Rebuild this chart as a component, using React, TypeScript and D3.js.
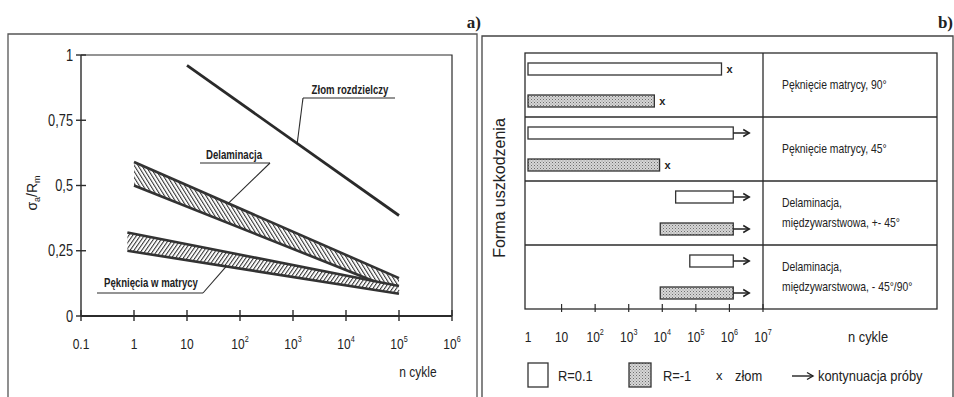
import React from "react";
import * as d3 from "d3";

// ---- data: a) S-N bands ----
const leftTicks = [0.1, 1, 10, 1e2, 1e3, 1e4, 1e5, 1e6];
const stressTicks = [0, 0.25, 0.5, 0.75, 1];
const stressTickLabels = ["0", "0,25", "0,5", "0,75", "1"];

const zlomN = [10, 1e5];
const zlomS = [0.96, 0.385];

const delamN = [1, 1e5];
const delamUpper = [0.59, 0.145];
const delamLower = [0.5, 0.095];

const matrixN = [0.75, 1e5];
const matrixUpper = [0.32, 0.115];
const matrixLower = [0.25, 0.085];

// ---- data: b) failure modes ----
const failureModes = [
  ["Pęknięcie matrycy, 90°"],
  ["Pęknięcie matrycy, 45°"],
  ["Delaminacja,", "międzywarstwowa, +- 45°"],
  ["Delaminacja,", "międzywarstwowa, - 45°/90°"],
];
const rightTicks = [1, 10, 1e2, 1e3, 1e4, 1e5, 1e6, 1e7];
const r01Start = [1, 1, 2.5e4, 6.6e4];
const r01End = [5.8e5, 1.3e6, 1.3e6, 1.3e6];
const r01Mark = ["x", "arrow", "arrow", "arrow"];
const rm1Start = [1, 1, 8.7e3, 8.7e3];
const rm1End = [5.8e3, 8.3e3, 1.3e6, 1.3e6];
const rm1Mark = ["x", "x", "arrow", "arrow"];

const SANS = "'Liberation Sans', Arial, sans-serif";
const INK = "#2b2b2b";

// no narrow face installed, so squeeze Liberation Sans horizontally
function NText({
  x,
  y,
  size,
  anchor = "start",
  weight = "normal",
  squeeze = 0.8,
  children,
}: {
  x: number;
  y: number;
  size: number;
  anchor?: string;
  weight?: string;
  squeeze?: number;
  children: React.ReactNode;
}) {
  return (
    <text
      transform={`translate(${x},${y}) scale(${squeeze},1)`}
      textAnchor={anchor as any}
      fontFamily={SANS}
      fontWeight={weight}
      fontSize={size}
      fill="#222"
    >
      {children}
    </text>
  );
}

function expLabel(v: number) {
  const e = Math.round(Math.log10(v));
  if (v < 1) return <tspan>{String(v)}</tspan>;
  if (e === 0) return <tspan>1</tspan>;
  if (e === 1) return <tspan>10</tspan>;
  return (
    <>
      <tspan>10</tspan>
      <tspan dy={-7} fontSize="0.6em">{e}</tspan>
    </>
  );
}

// value on a straight band edge (linear in log n)
function edgeAt(ns: number[], vs: number[], n: number) {
  const t = (Math.log10(n) - Math.log10(ns[0])) / (Math.log10(ns[1]) - Math.log10(ns[0]));
  return vs[0] + t * (vs[1] - vs[0]);
}

function LeftChart() {
  const x = d3.scaleLog().domain([0.1, 1e6]).range([81, 452]);
  const y = d3.scaleLinear().domain([0, 1]).range([316, 55]);

  const line = d3
    .line<[number, number]>()
    .x((d) => x(d[0]))
    .y((d) => y(d[1]));
  const area = d3
    .area<number>()
    .x((_, i) => x(delamN[i]))
    .y0((_, i) => y(delamLower[i]))
    .y1((_, i) => y(delamUpper[i]));
  const areaM = d3
    .area<number>()
    .x((_, i) => x(matrixN[i]))
    .y0((_, i) => y(matrixLower[i]))
    .y1((_, i) => y(matrixUpper[i]));

  const zip = (a: number[], b: number[]) => a.map((v, i) => [v, b[i]] as [number, number]);

  // leader targets
  const zlomTarget = 1.2e3;
  const delamTarget = 60;
  const matrixTarget = 55;

  return (
    <g>
      <defs>
        <pattern id="hatchD" width="3.2" height="3.2" patternUnits="userSpaceOnUse" patternTransform="rotate(-32)">
          <rect width="3.2" height="3.2" fill="#fff" />
          <line x1="0" y1="0" x2="0" y2="3.2" stroke="#333" strokeWidth="2.1" />
        </pattern>
        <pattern id="hatchM" width="3.2" height="3.2" patternUnits="userSpaceOnUse" patternTransform="rotate(35)">
          <rect width="3.2" height="3.2" fill="#fff" />
          <line x1="0" y1="0" x2="0" y2="3.2" stroke="#333" strokeWidth="2.1" />
        </pattern>
      </defs>
      {/* frame */}
      <path d="M81,55 H452 V316" fill="none" stroke={INK} strokeWidth={1.2} />
      <line x1={81} x2={81} y1={55} y2={316} stroke={INK} strokeWidth={1.4} />
      <line x1={81} x2={452} y1={316} y2={316} stroke={INK} strokeWidth={2} />
      {stressTicks.map((t, i) => (
        <g key={t}>
          <line x1={76} x2={86} y1={y(t)} y2={y(t)} stroke={INK} strokeWidth={1.4} />
          <NText x={73} y={y(t) + 5.5} anchor="end" size={16}>
            {stressTickLabels[i]}
          </NText>
        </g>
      ))}
      {leftTicks.map((t) => (
        <g key={t}>
          <line x1={x(t)} x2={x(t)} y1={310} y2={321} stroke={INK} strokeWidth={1.4} />
          <NText x={x(t)} y={349} anchor="middle" size={15}>
            {expLabel(t)}
          </NText>
        </g>
      ))}
      <NText x={418} y={377} anchor="middle" size={15}>
        n cykle
      </NText>
      <text transform="translate(37,193) rotate(-90)" textAnchor="middle" fontFamily={SANS} fontSize={14} fill="#222">
        <tspan>σ</tspan>
        <tspan fontSize={9} dy={3}>a</tspan>
        <tspan dy={-3}>/R</tspan>
        <tspan fontSize={9} dy={3}>m</tspan>
      </text>

      {/* bands */}
      <path d={area(delamN) || ""} fill="url(#hatchD)" />
      <path d={line(zip(delamN, delamUpper)) || ""} stroke="#333" strokeWidth={2.6} fill="none" />
      <path d={line(zip(delamN, delamLower)) || ""} stroke="#333" strokeWidth={2.6} fill="none" />
      <path d={areaM(matrixN) || ""} fill="url(#hatchM)" />
      <path d={line(zip(matrixN, matrixUpper)) || ""} stroke="#333" strokeWidth={2.6} fill="none" />
      <path d={line(zip(matrixN, matrixLower)) || ""} stroke="#333" strokeWidth={2.6} fill="none" />
      <path d={line(zip(zlomN, zlomS)) || ""} stroke="#2a2a2a" strokeWidth={2.8} fill="none" />

      {/* annotations */}
      <NText x={350} y={94} anchor="middle" weight="bold" size={12}>
        Złom rozdzielczy
      </NText>
      <line x1={303} x2={395} y1={98} y2={98} stroke={INK} strokeWidth={1.1} />
      <line x1={303} y1={98} x2={x(zlomTarget)} y2={y(edgeAt(zlomN, zlomS, zlomTarget))} stroke={INK} strokeWidth={1.1} />

      <NText x={234} y={159} anchor="middle" weight="bold" size={12}>
        Delaminacja
      </NText>
      <line x1={200} x2={270} y1={163} y2={163} stroke={INK} strokeWidth={1.1} />
      <line x1={270} y1={163} x2={x(delamTarget)} y2={y(edgeAt(delamN, delamUpper, delamTarget))} stroke={INK} strokeWidth={1.1} />

      <NText x={151} y={287} anchor="middle" weight="bold" size={12}>
        Pęknięcia w matrycy
      </NText>
      <line x1={97} x2={203} y1={293} y2={293} stroke={INK} strokeWidth={1.1} />
      <line x1={203} y1={293} x2={x(matrixTarget)} y2={y(edgeAt(matrixN, matrixLower, matrixTarget))} stroke={INK} strokeWidth={1.1} />
    </g>
  );
}

function RightChart() {
  const x = d3.scaleLog().domain([1, 1e7]).range([528, 763]);
  const rows = d3.scaleBand<number>().domain(d3.range(failureModes.length)).range([53, 309]);
  const sub = d3
    .scaleBand<string>()
    .domain(["R=0.1", "R=-1"])
    .range([0, rows.bandwidth()])
    .paddingInner(0.625)
    .paddingOuter(0.3125);
  const bh = sub.bandwidth();

  const mark = (kind: string, xe: number, yc: number, key: string) =>
    kind === "x" ? (
      <text key={key} x={xe + 5} y={yc + 4} fontFamily={SANS} fontWeight="bold" fontSize={11} fill="#222">
        x
      </text>
    ) : (
      <g key={key} stroke="#222" strokeWidth={1.5} fill="none">
        <line x1={xe} x2={xe + 16} y1={yc} y2={yc} />
        <path d={`M${xe + 10},${yc - 3.5} L${xe + 16},${yc} L${xe + 10},${yc + 3.5}`} />
      </g>
    );

  return (
    <g>
      <defs>
        <pattern id="stipple" width="3" height="3" patternUnits="userSpaceOnUse">
          <rect width="3" height="3" fill="#d6d6d6" />
          <rect x="0" y="0" width="1" height="1" fill="#6e6e6e" />
          <rect x="1.5" y="1.5" width="1" height="1" fill="#8e8e8e" />
        </pattern>
      </defs>
      {/* table frame */}
      <rect x={525} y={53} width={412} height={256} fill="none" stroke={INK} strokeWidth={1.3} />
      <line x1={x(1e7)} x2={x(1e7)} y1={53} y2={309} stroke={INK} strokeWidth={1.3} />
      {failureModes.slice(1).map((_, i) => (
        <line key={i} x1={525} x2={937} y1={rows(i + 1)!} y2={rows(i + 1)!} stroke={INK} strokeWidth={1.3} />
      ))}
      {failureModes.map((lines, i) => {
        const yc = rows(i)! + rows.bandwidth() / 2;
        const y0 = yc - ((lines.length - 1) * 20) / 2 + 4;
        return (
          <g key={i}>
            {lines.map((s, j) => (
              <NText key={j} x={782} y={y0 + j * 20} size={12.5} squeeze={0.83}>
                {s}
              </NText>
            ))}
          </g>
        );
      })}
      {/* bars */}
      {failureModes.map((_, i) => {
        const ya = rows(i)! + sub("R=0.1")!;
        const yb = rows(i)! + sub("R=-1")!;
        return (
          <g key={i}>
            <rect x={x(r01Start[i])} y={ya} width={x(r01End[i]) - x(r01Start[i])} height={bh} fill="#fff" stroke="#333" strokeWidth={1.3} />
            <rect x={x(rm1Start[i])} y={yb} width={x(rm1End[i]) - x(rm1Start[i])} height={bh} fill="url(#stipple)" stroke="#333" strokeWidth={1.3} />
            {mark(r01Mark[i], x(r01End[i]), ya + bh / 2, "a")}
            {mark(rm1Mark[i], x(rm1End[i]), yb + bh / 2, "b")}
          </g>
        );
      })}
      {/* axis */}
      {rightTicks.map((t) => (
        <g key={t}>
          {t > 1 && <line x1={x(t)} x2={x(t)} y1={304} y2={312} stroke={INK} strokeWidth={1.2} />}
          <NText x={x(t)} y={342} anchor="middle" size={15}>
            {expLabel(t)}
          </NText>
        </g>
      ))}
      <NText x={868} y={342} anchor="middle" size={15} squeeze={0.86}>
        n cykle
      </NText>
      <text transform="translate(505,188) rotate(-90)" textAnchor="middle" fontFamily={SANS} fontSize={16} fill="#222">
        Forma uszkodzenia
      </text>
      {/* legend */}
      <rect x={528} y={363} width={20} height={24} fill="#fff" stroke="#333" strokeWidth={1.3} />
      <NText x={558} y={381} size={15} squeeze={0.86}>R=0.1</NText>
      <rect x={629} y={363} width={22} height={24} fill="url(#stipple)" stroke="#333" strokeWidth={1.3} />
      <NText x={663} y={381} size={15} squeeze={0.86}>R=-1</NText>
      <text x={716} y={380} fontFamily={SANS} fontSize={13} fill="#222">x</text>
      <NText x={735} y={381} size={15} squeeze={0.86}>złom</NText>
      <g stroke="#222" strokeWidth={1.4} fill="none">
        <line x1={792} x2={813} y1={376} y2={376} />
        <path d="M807,372.5 L813,376 L807,379.5" />
      </g>
      <NText x={818} y={381} size={15} squeeze={0.86}>kontynuacja próby</NText>
    </g>
  );
}

export default function App() {
  return (
    <svg
      width={954}
      height={397}
      viewBox="0 0 954 397"
      style={{ position: "absolute", left: 0, top: 0, background: "#fff" }}
    >
      <rect width={954} height={397} fill="#fff" />
      {/* panel frames */}
      <path d="M8,400 V34 H477 V400" fill="none" stroke="#555" strokeWidth={1.3} />
      <path d="M482,400 V36 H953 V400" fill="none" stroke="#444" strokeWidth={1.3} />
      <text x={481} y={28} textAnchor="end" fontFamily="'Liberation Serif', serif" fontWeight="bold" fontSize={17} fill="#222">
        a)
      </text>
      <text x={953} y={28} textAnchor="end" fontFamily="'Liberation Serif', serif" fontWeight="bold" fontSize={17} fill="#222">
        b)
      </text>
      <LeftChart />
      <RightChart />
    </svg>
  );
}
